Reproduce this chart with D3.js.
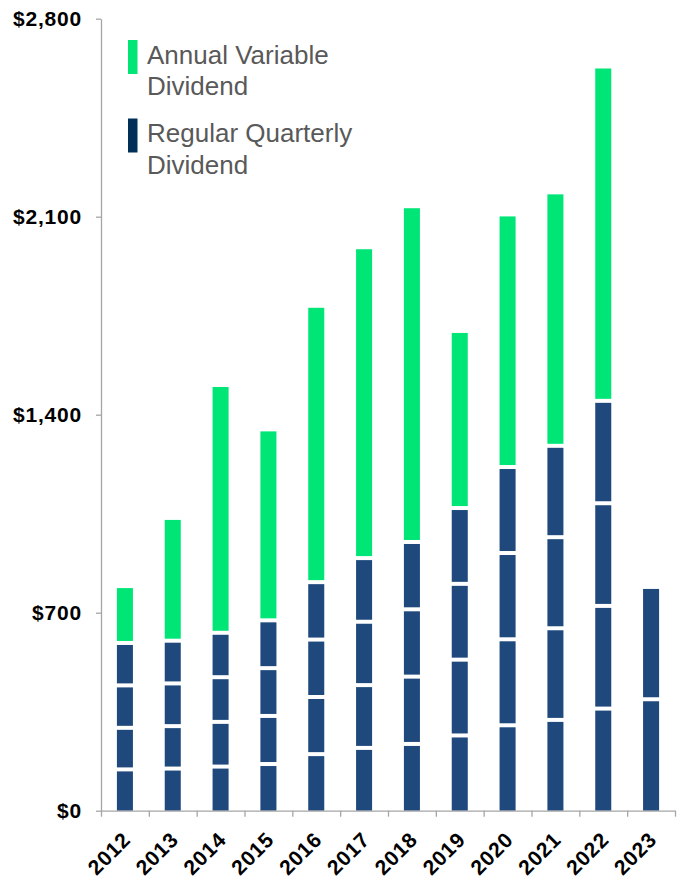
<!DOCTYPE html>
<html>
<head>
<meta charset="utf-8">
<script src="https://cdn.jsdelivr.net/npm/d3@7"></script>
<style>
    body { margin: 0; background: #fff; }
    svg { display: block; font-family: Arial, "Liberation Sans", sans-serif; }
    .axis path, .axis line { stroke: #a6a6a6; stroke-width: 1.3; }
    .axis text { fill: #000; font-weight: bold; font-size: 21px; letter-spacing: 0.8px; }
</style>
</head>
<body>
<script>
var years = ["2012", "2013", "2014", "2015", "2016", "2017", "2018", "2019", "2020", "2021", "2022", "2023"];
// regular quarterly dividend, one array per quarter
var q1 = [146, 149, 156, 165, 200, 222, 236, 266, 302, 321, 361, 394];
var q2 = [147, 150, 158, 170, 202, 222, 238, 268, 304, 324, 363, 390];
var q3 = [150, 151, 158, 169, 203, 224, 238, 268, 305, 322, 363, 0];
var q4 = [150, 151, 157, 169, 203, 225, 238, 268, 304, 323, 362, 0];
// annual variable dividend
var variable = [194, 427, 869, 668, 970, 1092, 1180, 619, 886, 889, 1175, 0];
var yTicks = [0, 700, 1400, 2100, 2800];

var keys = ["q1", "q2", "q3", "q4", "variable"];
var rows = years.map(function(y, i) {
    return {year: y, q1: q1[i], q2: q2[i], q3: q3[i], q4: q4[i], variable: variable[i]};
});

var width = 678, height = 879;
var margin = {top: 18.7, right: 3, bottom: 68.3, left: 101};
var gap = 4;

var svg = d3.select("body").append("svg")
    .attr("width", width)
    .attr("height", height);

var x = d3.scaleBand()
    .domain(years)
    .range([margin.left, width - margin.right])
    .paddingInner(0.665)
    .paddingOuter(0.3325);

var xEdges = d3.scaleLinear()
    .domain([0, years.length])
    .range([margin.left, width - margin.right]);

var y = d3.scaleLinear()
    .domain([0, 2800])
    .range([height - margin.bottom, margin.top]);

var stack = d3.stack().keys(keys)(rows);

// top-most non-empty segment for each year, so no gap is cut above it
var topKey = rows.map(function(r) {
    var k = null;
    keys.forEach(function(key) { if (r[key] > 0) k = key; });
    return k;
});

svg.append("g").selectAll("g")
    .data(stack)
    .enter().append("g")
    .attr("fill", function(d) { return d.key === "variable" ? "#00e676" : "#1f497d"; })
    .each(function(layer) {
        d3.select(this).selectAll("rect")
            .data(layer.filter(function(d) { return d[1] - d[0] > 0; }))
            .enter().append("rect")
            .attr("x", function(d) { return x(d.data.year); })
            .attr("width", x.bandwidth())
            .attr("y", function(d) {
                var isTop = topKey[years.indexOf(d.data.year)] === layer.key;
                return y(d[1]) + (isTop ? 0 : gap / 2);
            })
            .attr("height", function(d) {
                var isTop = topKey[years.indexOf(d.data.year)] === layer.key;
                var h = y(d[0]) - y(d[1]);
                if (!isTop) h -= gap / 2;
                if (d[0] > 0) h -= gap / 2;
                return h;
            });
    });

// y axis
svg.append("g")
    .attr("class", "axis")
    .attr("transform", "translate(" + margin.left + ",0)")
    .call(d3.axisLeft(y)
        .tickValues(yTicks)
        .tickSize(5)
        .tickSizeOuter(0)
        .tickPadding(14)
        .tickFormat(function(d) { return "$" + d3.format(",")(d); }));

// x axis, ticks on the band edges
svg.append("g")
    .attr("class", "axis")
    .attr("transform", "translate(0," + y(0) + ")")
    .call(d3.axisBottom(xEdges)
        .tickValues(d3.range(years.length + 1))
        .tickSize(6)
        .tickSizeOuter(0)
        .tickFormat(""));

svg.append("g")
    .attr("class", "axis")
    .selectAll("text")
    .data(years)
    .enter().append("text")
    .attr("transform", function(d) {
        return "translate(" + (x(d) + x.bandwidth() / 2 + 7) + "," + 841 + ") rotate(-45)";
    })
    .style("text-anchor", "end")
    .text(function(d) { return d; });

// legend
var legendItems = [
    {lines: ["Annual Variable", "Dividend"], color: "#00e676"},
    {lines: ["Regular Quarterly", "Dividend"], color: "#003057"}
];

var legend = svg.append("g").selectAll("g")
    .data(legendItems)
    .enter().append("g")
    .attr("transform", function(d, i) { return "translate(128," + (40 + i * 78.5) + ")"; });

legend.append("rect")
    .attr("width", 9.5)
    .attr("height", 34)
    .attr("fill", function(d) { return d.color; });

legend.append("text")
    .attr("x", 19)
    .attr("y", 23.5)
    .style("font-size", "26px")
    .style("fill", "#595959")
    .selectAll("tspan")
    .data(function(d) { return d.lines; })
    .enter().append("tspan")
    .attr("x", 19)
    .attr("dy", function(d, i) { return i === 0 ? 0 : 31.5; })
    .text(function(d) { return d; });
</script>
</body>
</html>
